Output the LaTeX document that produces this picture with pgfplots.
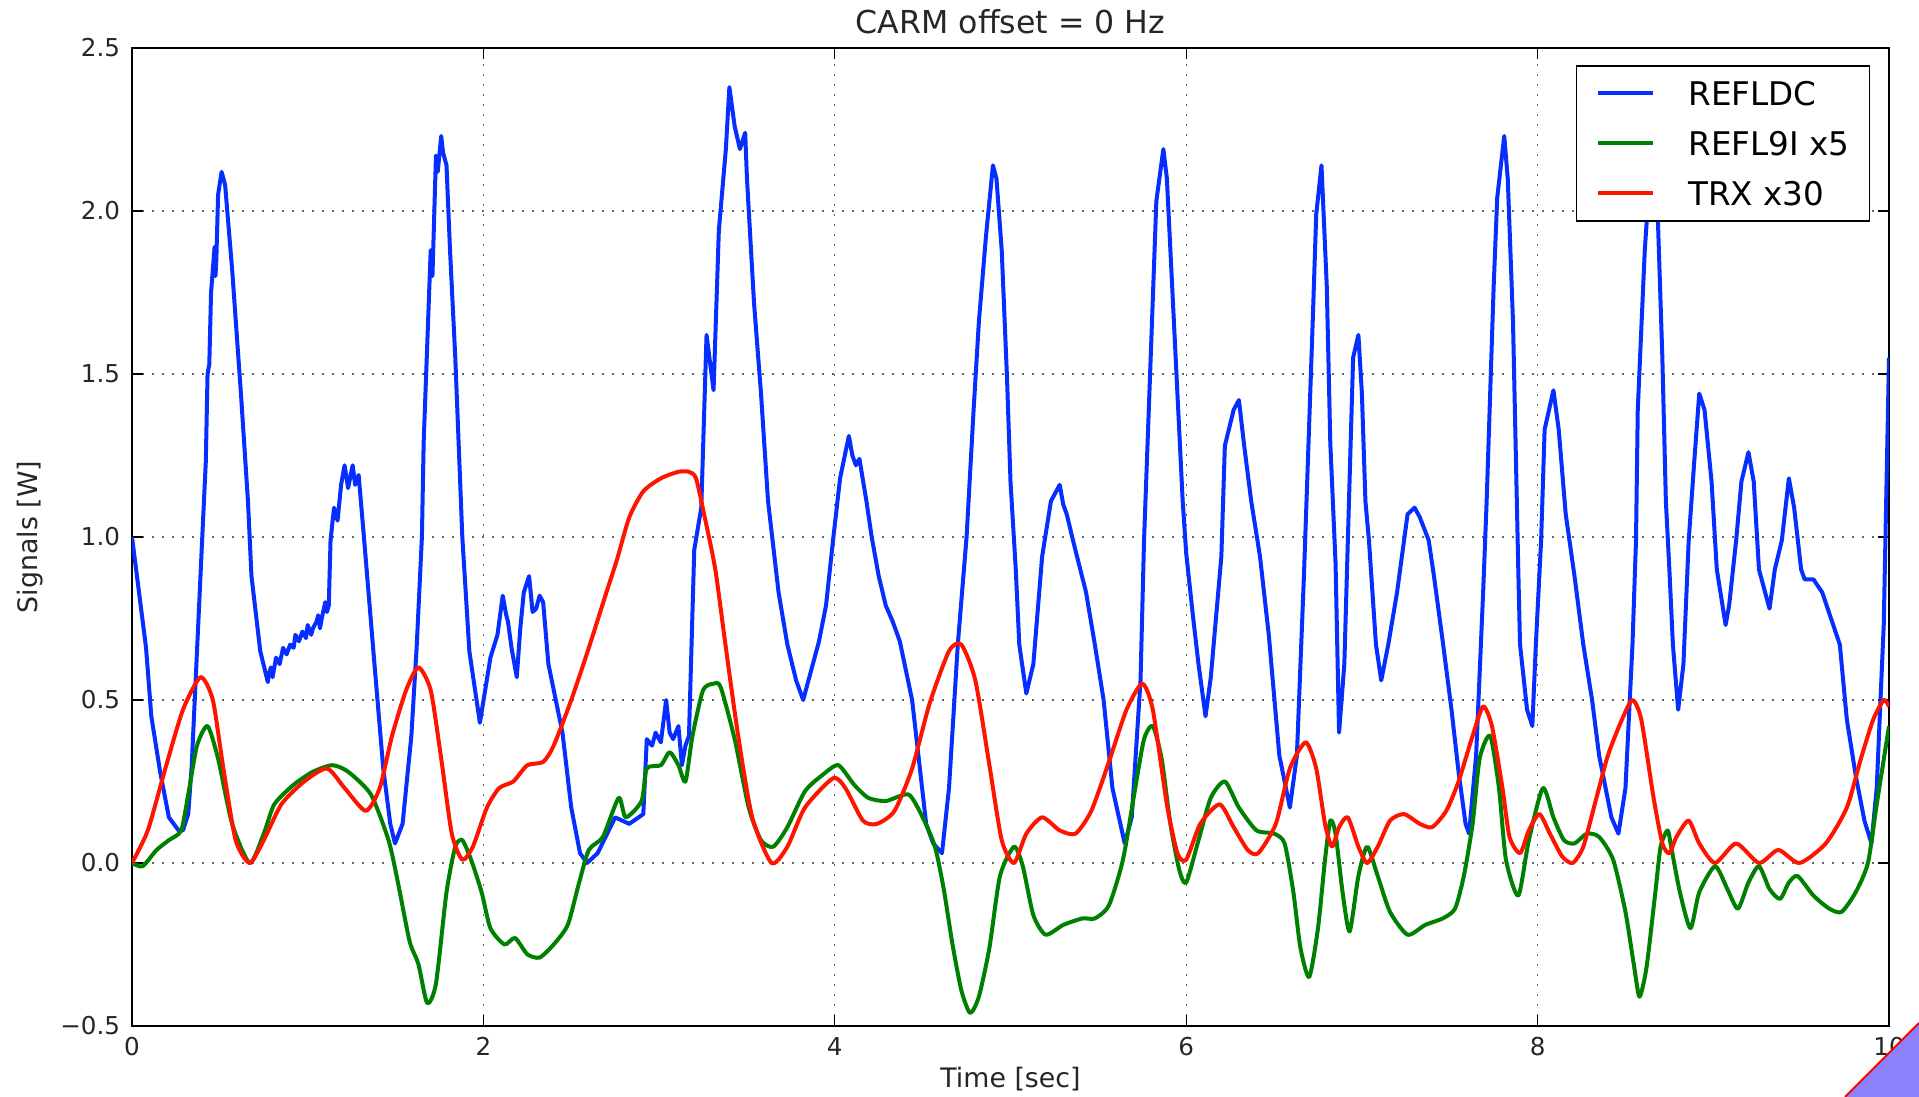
\documentclass[border=0pt]{standalone}
\usepackage{fontspec}
\setmainfont{DejaVu Sans}
\usepackage{pgfplots}
\pgfplotsset{compat=1.18}
\definecolor{mblue}{rgb}{0.02,0.18,1}
\definecolor{mgreen}{rgb}{0,0.5,0}
\definecolor{mred}{rgb}{1,0.08,0}
\definecolor{curl}{RGB}{140,128,255}
\begin{document}
\begin{tikzpicture}
\useasboundingbox (-66bp,-35.5bp) rectangle (893.5bp,513bp);
\begin{axis}[
  at={(0,0)}, anchor=south west,
  scale only axis, width=878.5bp, height=489bp,
  xmin=0, xmax=10, ymin=-0.5, ymax=2.5,
  xtick={0,2,...,10}, xticklabels={0,2,4,6,8,10},
  ytick={-0.5,0,0.5,1,1.5,2,2.5},
  yticklabels={−0.5,0.0,0.5,1.0,1.5,2.0,2.5},
  tick align=inside, major tick length=5.5bp,
  tick style={black, line width=0.6bp},
  axis line style={line width=0.75bp},
  grid=major,
  major grid style={black!60, line width=0.6bp, dash pattern=on 0.8bp off 4.2bp},
  ticklabel style={font=\fontsize{12.3bp}{14bp}\selectfont, text=black!85},
  xticklabel style={inner sep=0pt, yshift=-5.5bp},
  yticklabel style={inner sep=0pt, xshift=-5.75bp},
  title={CARM offset = 0 Hz},
  every axis title/.style={at={(0.5,1)}, anchor=base, yshift=7bp, font=\fontsize{15.8bp}{18bp}\selectfont, text=black!85},
  xlabel={Time [sec]},
  every axis x label/.style={at={(0.5,0)}, anchor=base, yshift=-30.5bp, font=\fontsize{13.4bp}{16bp}\selectfont, text=black!85},
  ylabel={Signals [W]},
  every axis y label/.style={at={(0,0.5)}, xshift=-47bp, rotate=90, anchor=base, font=\fontsize{13.4bp}{16bp}\selectfont, text=black!85},
  legend style={at={(0.9892,0.9826)}, anchor=north east, draw=black, line width=0.75bp, fill=white,
    font=\fontsize{16.3bp}{18bp}\selectfont, inner xsep=10bp, inner ysep=6.25bp, row sep=10bp,
    nodes={inner sep=0pt, text height=13.5bp, text depth=1.5bp}},
  legend cell align=left,
  legend image code/.code={\draw[#1] (0bp,0bp) -- (27.5bp,0bp);},
  /tikz/every odd column/.append style={column sep=16.5bp},
  every axis plot/.append style={line width=2bp, line join=round, no marks},
]
\addplot[mblue] coordinates {
(0.00,1.00) (0.08,0.66) (0.11,0.45) (0.16,0.28) (0.21,0.14) (0.265,0.10) (0.29,0.10)
(0.32,0.15) (0.34,0.30) (0.37,0.65) (0.40,1.00) (0.42,1.23) (0.43,1.50) (0.44,1.53)
(0.45,1.75) (0.47,1.89) (0.475,1.80) (0.48,1.85) (0.49,2.05) (0.51,2.12) (0.53,2.08) (0.57,1.82)
(0.62,1.44) (0.66,1.11) (0.68,0.88) (0.73,0.65) (0.773,0.555) (0.78,0.58) (0.79,0.60) (0.80,0.57) (0.82,0.63)
(0.84,0.61) (0.86,0.66) (0.88,0.64) (0.90,0.67) (0.92,0.66) (0.93,0.70) (0.95,0.68) (0.97,0.71)
(0.99,0.69) (1.00,0.73) (1.02,0.70) (1.03,0.72) (1.05,0.74) (1.06,0.76) (1.07,0.72)
(1.08,0.75) (1.10,0.80) (1.11,0.77) (1.12,0.79) (1.13,0.99) (1.15,1.09) (1.17,1.05) (1.19,1.16)
(1.21,1.22) (1.23,1.15) (1.256,1.22) (1.27,1.16) (1.29,1.19) (1.32,1.00) (1.38,0.61)
(1.43,0.29) (1.47,0.12) (1.497,0.06) (1.54,0.12) (1.59,0.39) (1.62,0.66) (1.65,1.00)
(1.66,1.29) (1.70,1.88) (1.71,1.80) (1.73,2.17) (1.74,2.12) (1.76,2.23) (1.77,2.18) (1.79,2.14)
(1.81,1.88) (1.84,1.55) (1.88,1.00) (1.92,0.65) (1.98,0.43) (2.04,0.63) (2.08,0.70)
(2.11,0.82) (2.13,0.76) (2.14,0.74) (2.16,0.66) (2.19,0.57) (2.21,0.72) (2.23,0.83) (2.26,0.88) (2.28,0.77) (2.30,0.78)
(2.32,0.82) (2.34,0.80) (2.37,0.61) (2.45,0.40) (2.50,0.17) (2.55,0.03) (2.59,0.00) (2.65,0.03) (2.75,0.14)
(2.83,0.12) (2.91,0.15) (2.93,0.38) (2.96,0.36) (2.98,0.40) (3.01,0.37) (3.04,0.50) (3.06,0.40) (3.08,0.38) (3.11,0.42) (3.13,0.30)
(3.15,0.36) (3.17,0.39) (3.20,0.96) (3.24,1.09) (3.27,1.62) (3.31,1.45) (3.34,1.94) (3.38,2.19)
(3.40,2.38) (3.43,2.26) (3.46,2.19) (3.49,2.24) (3.50,2.10) (3.54,1.72) (3.58,1.44)
(3.62,1.11) (3.68,0.83) (3.73,0.67) (3.78,0.56) (3.82,0.50) (3.86,0.58) (3.88,0.62) (3.91,0.68)
(3.95,0.79) (3.99,0.99) (4.03,1.18) (4.08,1.31) (4.10,1.25) (4.12,1.22) (4.14,1.24) (4.18,1.11)
(4.21,1.00) (4.25,0.88) (4.29,0.79) (4.33,0.74) (4.37,0.68) (4.44,0.50) (4.52,0.12) (4.56,0.06) (4.61,0.03)
(4.65,0.23) (4.70,0.67) (4.75,1.00) (4.79,1.39) (4.82,1.66) (4.86,1.92) (4.90,2.14)
(4.92,2.10) (4.95,1.88) (4.98,1.49) (5.00,1.17) (5.03,0.90) (5.05,0.67) (5.09,0.52)
(5.13,0.61) (5.18,0.94) (5.23,1.11) (5.26,1.14) (5.28,1.16) (5.30,1.10) (5.32,1.07) (5.36,0.98) (5.43,0.83)
(5.48,0.67) (5.53,0.50) (5.58,0.23) (5.65,0.06) (5.69,0.14) (5.74,0.56) (5.76,0.99)
(5.81,1.73) (5.83,2.03) (5.87,2.19) (5.89,2.10) (5.91,1.88) (5.94,1.55) (5.98,1.11)
(6.00,0.95) (6.04,0.75) (6.07,0.61) (6.11,0.45) (6.14,0.57) (6.20,0.94) (6.22,1.28)
(6.27,1.39) (6.30,1.42) (6.33,1.28) (6.37,1.11) (6.42,0.94) (6.47,0.70) (6.53,0.33)
(6.59,0.17) (6.63,0.33) (6.67,0.88) (6.72,1.66) (6.74,1.99) (6.77,2.14) (6.80,1.77)
(6.82,1.29) (6.85,0.92) (6.87,0.40) (6.90,0.61) (6.92,0.99) (6.95,1.55) (6.98,1.62)
(7.00,1.44) (7.02,1.11) (7.04,0.99) (7.08,0.67) (7.11,0.56) (7.15,0.67) (7.20,0.83)
(7.24,0.99) (7.26,1.07) (7.30,1.09) (7.33,1.06) (7.38,0.99) (7.41,0.88) (7.46,0.68)
(7.51,0.47) (7.55,0.28) (7.59,0.12) (7.61,0.09) (7.65,0.33) (7.69,0.83) (7.71,1.11)
(7.75,1.77) (7.77,2.04) (7.81,2.23) (7.83,2.10) (7.86,1.66) (7.89,0.90) (7.90,0.67)
(7.94,0.47) (7.97,0.42) (7.99,0.67) (8.02,0.99) (8.04,1.33) (8.09,1.45) (8.12,1.33)
(8.16,1.07) (8.21,0.88) (8.26,0.67) (8.31,0.50) (8.35,0.33) (8.42,0.14) (8.46,0.09)
(8.50,0.23) (8.54,0.67) (8.56,0.99) (8.57,1.39) (8.61,1.88) (8.65,2.20) (8.68,2.05)
(8.71,1.55) (8.73,1.11) (8.75,0.90) (8.77,0.67) (8.80,0.47) (8.83,0.61) (8.86,0.99)
(8.89,1.22) (8.92,1.44) (8.95,1.39) (8.99,1.17) (9.02,0.90) (9.07,0.73) (9.09,0.79)
(9.13,0.99) (9.16,1.17) (9.20,1.26) (9.23,1.17) (9.26,0.90) (9.32,0.78) (9.35,0.90)
(9.39,0.99) (9.43,1.18) (9.46,1.09) (9.50,0.90) (9.52,0.87) (9.57,0.87) (9.62,0.83)
(9.67,0.75) (9.72,0.67) (9.76,0.44) (9.81,0.27) (9.86,0.13) (9.90,0.06) (9.93,0.23)
(9.97,0.73) (10.00,1.55)
};
\addlegendentry{REFLDC}
\addplot[mgreen, smooth, tension=0.4] coordinates {
(0.00,0.00) (0.06,-0.01) (0.14,0.04) (0.21,0.07) (0.28,0.10) (0.32,0.21) (0.37,0.36)
(0.43,0.42) (0.49,0.32) (0.57,0.12) (0.67,0.00) (0.75,0.09) (0.81,0.18) (0.92,0.24)
(1.03,0.28) (1.14,0.30) (1.23,0.28) (1.36,0.21) (1.46,0.07) (1.51,-0.05) (1.58,-0.24)
(1.63,-0.31) (1.68,-0.43) (1.73,-0.37) (1.79,-0.09) (1.84,0.05) (1.88,0.07) (1.93,0.01)
(1.99,-0.09) (2.04,-0.20) (2.12,-0.25) (2.18,-0.23) (2.25,-0.28) (2.32,-0.29) (2.40,-0.25)
(2.48,-0.19) (2.54,-0.07) (2.60,0.04) (2.68,0.08) (2.77,0.20) (2.81,0.14) (2.90,0.19)
(2.93,0.29) (3.01,0.30) (3.06,0.34) (3.11,0.30) (3.15,0.25) (3.19,0.39) (3.25,0.53)
(3.31,0.55) (3.35,0.54) (3.43,0.38) (3.51,0.17) (3.58,0.07) (3.65,0.05) (3.73,0.11)
(3.83,0.22) (3.93,0.27) (4.02,0.30) (4.11,0.24) (4.19,0.20) (4.29,0.19) (4.42,0.21)
(4.50,0.14) (4.57,0.05) (4.62,-0.08) (4.67,-0.25) (4.72,-0.39) (4.77,-0.46) (4.82,-0.41)
(4.88,-0.26) (4.94,-0.04) (5.02,0.05) (5.07,-0.01) (5.13,-0.16) (5.20,-0.22) (5.30,-0.19)
(5.41,-0.17) (5.48,-0.17) (5.56,-0.13) (5.64,0.01) (5.71,0.23) (5.76,0.38) (5.81,0.42)
(5.86,0.32) (5.91,0.12) (5.96,-0.02) (6.00,-0.06) (6.07,0.07) (6.14,0.20) (6.22,0.25)
(6.30,0.17) (6.40,0.10) (6.50,0.09) (6.56,0.06) (6.61,-0.09) (6.65,-0.26) (6.70,-0.35)
(6.75,-0.20) (6.79,0.01) (6.82,0.13) (6.85,0.09) (6.89,-0.09) (6.93,-0.21) (6.98,-0.04)
(7.03,0.05) (7.09,-0.04) (7.16,-0.15) (7.26,-0.22) (7.36,-0.19) (7.46,-0.17) (7.53,-0.14)
(7.58,-0.04) (7.63,0.12) (7.67,0.32) (7.73,0.39) (7.78,0.23) (7.82,0.01) (7.89,-0.10)
(7.95,0.07) (8.03,0.23) (8.09,0.14) (8.15,0.07) (8.21,0.06) (8.28,0.09) (8.35,0.08)
(8.43,0.01) (8.50,-0.15) (8.55,-0.32) (8.58,-0.41) (8.62,-0.32) (8.67,-0.09) (8.70,0.05)
(8.74,0.10) (8.76,0.05) (8.81,-0.09) (8.87,-0.20) (8.92,-0.09) (9.01,-0.01) (9.08,-0.08)
(9.14,-0.14) (9.20,-0.06) (9.26,-0.01) (9.32,-0.08) (9.38,-0.11) (9.43,-0.06) (9.48,-0.04)
(9.57,-0.10) (9.66,-0.14) (9.73,-0.15) (9.81,-0.09) (9.88,0.00) (9.93,0.18) (10.00,0.42)
};
\addlegendentry{REFL9I x5}
\addplot[mred, smooth, tension=0.4] coordinates {
(0.00,0.00) (0.09,0.10) (0.19,0.29) (0.29,0.47) (0.39,0.57) (0.46,0.50) (0.52,0.29)
(0.59,0.07) (0.67,0.00) (0.75,0.07) (0.85,0.18) (0.98,0.25) (1.11,0.29) (1.21,0.23)
(1.33,0.16) (1.41,0.23) (1.48,0.39) (1.56,0.53) (1.63,0.60) (1.70,0.53) (1.76,0.32)
(1.82,0.09) (1.88,0.01) (1.94,0.05) (2.02,0.17) (2.09,0.23) (2.17,0.25) (2.25,0.30)
(2.34,0.31) (2.40,0.36) (2.50,0.50) (2.60,0.66) (2.70,0.83) (2.76,0.93) (2.83,1.06)
(2.91,1.14) (3.01,1.18) (3.11,1.20) (3.17,1.20) (3.21,1.18) (3.26,1.06) (3.32,0.90)
(3.38,0.66) (3.45,0.39) (3.53,0.14) (3.64,0.00) (3.73,0.05) (3.83,0.17) (3.99,0.26)
(4.06,0.23) (4.16,0.13) (4.24,0.12) (4.34,0.16) (4.44,0.29) (4.54,0.49) (4.65,0.65)
(4.72,0.67) (4.80,0.56) (4.88,0.30) (4.95,0.07) (5.02,0.00) (5.09,0.09) (5.18,0.14)
(5.28,0.10) (5.37,0.09) (5.46,0.16) (5.56,0.31) (5.66,0.47) (5.75,0.55) (5.81,0.47)
(5.89,0.18) (5.95,0.03) (6.00,0.01) (6.08,0.12) (6.19,0.18) (6.27,0.11) (6.35,0.04)
(6.41,0.03) (6.51,0.12) (6.59,0.29) (6.68,0.37) (6.74,0.29) (6.79,0.12) (6.83,0.05)
(6.87,0.11) (6.92,0.14) (6.98,0.05) (7.03,0.00) (7.09,0.05) (7.16,0.13) (7.24,0.15)
(7.33,0.12) (7.40,0.11) (7.48,0.16) (7.55,0.25) (7.63,0.39) (7.69,0.48) (7.74,0.42)
(7.80,0.23) (7.84,0.08) (7.90,0.03) (7.95,0.10) (8.01,0.15) (8.07,0.09) (8.14,0.02)
(8.20,0.00) (8.26,0.05) (8.33,0.19) (8.40,0.33) (8.48,0.44) (8.54,0.50) (8.59,0.44)
(8.66,0.20) (8.71,0.06) (8.75,0.03) (8.79,0.08) (8.86,0.13) (8.92,0.06) (9.01,0.00)
(9.13,0.06) (9.26,0.00) (9.37,0.04) (9.49,0.00) (9.64,0.06) (9.76,0.17) (9.84,0.32)
(9.91,0.44) (9.97,0.50) (10.00,0.48)
};
\addlegendentry{TRX x30}
\end{axis}
\fill[curl] (856.5bp,-35.5bp) -- (893.5bp,1.5bp) -- (893.5bp,-35.5bp) -- cycle;
\draw[red, line width=1bp] (856.5bp,-35.5bp) -- (893.5bp,1.5bp);
\end{tikzpicture}
\end{document}
